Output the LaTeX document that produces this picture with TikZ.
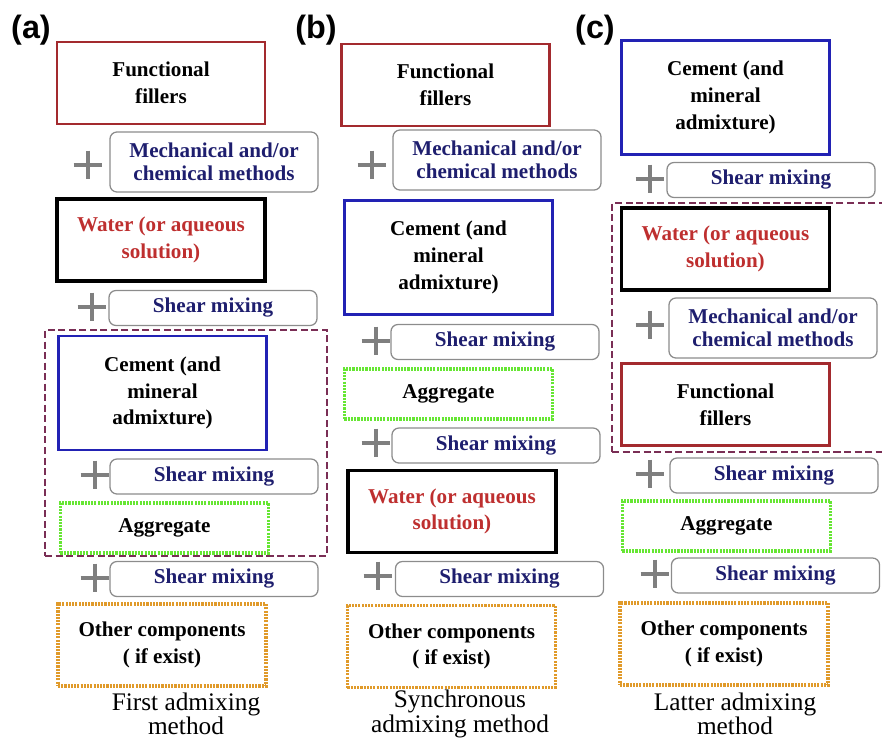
\documentclass[tikz,border=0pt]{standalone}
\usepackage{fontspec}
\setmainfont{Liberation Serif}
\newfontfamily\panelfont{Liberation Sans}
\usetikzlibrary{fit, backgrounds}
\definecolor{Cfill}{HTML}{A32A2E}
\definecolor{Cwat}{HTML}{BE2F2F}
\definecolor{Ccem}{HTML}{2222B4}
\definecolor{Cagg}{HTML}{66E633}
\definecolor{Coth}{HTML}{E09A2A}
\definecolor{Cgrp}{HTML}{7A2E55}
\definecolor{Cmix}{HTML}{8C8C8C}
\definecolor{Cnavy}{HTML}{1E1E6E}
\definecolor{Cplus}{HTML}{7F7F7F}
\tikzset{
  mainbox/.style={draw, line width=2pt, minimum width=5.2cm, align=center,
    inner sep=2pt, font=\fontsize{15}{19}\selectfont\bfseries},
  fillerbox/.style={mainbox, draw=Cfill, minimum height=2.05cm},
  waterbox/.style={mainbox, draw=black, line width=2.6pt, minimum height=2.05cm,
    text=Cwat},
  cementbox/.style={mainbox, draw=Ccem, minimum height=2.85cm},
  aggbox/.style={mainbox, draw=Cagg, line width=2.4pt,
    dash pattern=on 1.5pt off 0.8pt, minimum height=1.25cm},
  otherbox/.style={mainbox, draw=Coth, line width=2.4pt,
    dash pattern=on 1.5pt off 0.8pt, minimum height=2.05cm},
  mixbox/.style={draw=Cmix, line width=0.9pt, rounded corners=5pt,
    minimum width=5.2cm, align=center, inner sep=1pt, text=Cnavy,
    font=\fontsize{15}{16.5}\selectfont\bfseries},
  methodbox/.style={mixbox, minimum height=1.5cm},
  shearbox/.style={mixbox, minimum height=0.875cm},
  plussign/.style={minimum size=0.72cm, inner sep=0pt,
    path picture={\draw[Cplus, line width=2.4pt]
      (path picture bounding box.north) -- (path picture bounding box.south)
      (path picture bounding box.west) -- (path picture bounding box.east);}},
  groupbox/.style={draw=Cgrp, line width=2pt, dash pattern=on 5pt off 2.5pt,
    inner sep=0pt},
  caption/.style={align=center, font=\fontsize{18}{17.5}\selectfont},
  panel/.style={font=\panelfont\bfseries\fontsize{23}{26}\selectfont},
}

\begin{document}
\begin{tikzpicture}[x=0.025cm, y=-0.025cm]
\useasboundingbox (0,0) rectangle (882,742);

%% (a) first admixing
\node[panel] (la) at (31,30) {(a)};
\node[fillerbox] (fa) at (161,83) {Functional\\fillers};
\node[plussign] (pa1) at (88,165) {};
\node[methodbox] (ma) at (214,162) {Mechanical and/or\\chemical methods};
\node[waterbox] (wa) at (161,240) {Water (or aqueous\\solution)};
\node[plussign] (pa2) at (92,307) {};
\node[shearbox] (sa1) at (213,308) {Shear mixing};
\node[cementbox] (ca) at (162.5,393) {Cement (and\\mineral\\admixture)};
\node[plussign] (pa3) at (95,475) {};
\node[shearbox] (sa2) at (214,476.5) {Shear mixing};
\node[aggbox] (aa) at (164.5,528) {Aggregate};
\node[plussign] (pa4) at (95,578) {};
\node[shearbox] (sa3) at (214,579) {Shear mixing};
\node[otherbox] (oa) at (162,645) {Other components\\( if exist)};
\node[caption] (capa) at (186,714) {First admixing\\method};

%% (b) synchronous admixing
\node[panel] (lb) at (316,30) {(b)};
\node[fillerbox] (fb) at (445.5,85) {Functional\\fillers};
\node[plussign] (pb1) at (372,165) {};
\node[methodbox] (mb) at (497,160) {Mechanical and/or\\chemical methods};
\node[cementbox] (cb) at (448.5,257.5) {Cement (and\\mineral\\admixture)};
\node[plussign] (pb2) at (376,341) {};
\node[shearbox] (sb1) at (495,342) {Shear mixing};
\node[aggbox] (ab) at (448.5,394) {Aggregate};
\node[plussign] (pb3) at (376,443) {};
\node[shearbox] (sb2) at (496,445.5) {Shear mixing};
\node[waterbox] (wb) at (452,511.5) {Water (or aqueous\\solution)};
\node[plussign] (pb4) at (378,576) {};
\node[shearbox] (sb3) at (499.5,579) {Shear mixing};
\node[otherbox] (ob) at (451.5,646.5) {Other components\\( if exist)};
\node[caption] (capb) at (460,714) {Synchronous\\admixing method};

%% (c) latter admixing
\node[panel] (lc) at (595,30) {(c)};
\node[cementbox] (cc) at (725.5,97.5) {Cement (and\\mineral\\admixture)};
\node[plussign] (pc1) at (650,179) {};
\node[shearbox] (sc1) at (771,180) {Shear mixing};
\node[waterbox] (wc) at (725.5,249) {Water (or aqueous\\solution)};
\node[plussign] (pc2) at (650,325) {};
\node[methodbox] (mc) at (773,328) {Mechanical and/or\\chemical methods};
\node[fillerbox] (fc) at (725.5,404.5) {Functional\\fillers};
\node[plussign] (pc3) at (650,474) {};
\node[shearbox] (sc2) at (774,475.5) {Shear mixing};
\node[aggbox] (ac) at (726.5,526) {Aggregate};
\node[plussign] (pc4) at (655,574) {};
\node[shearbox] (sc3) at (775.5,575.5) {Shear mixing};
\node[otherbox] (oc) at (724,644) {Other components\\( if exist)};
\node[caption] (capc) at (735,714) {Latter admixing\\method};

%% dashed groups
\begin{scope}[on background layer]
  \coordinate (ga1) at (45,330);
  \coordinate (ga2) at (327,556);
  \node[groupbox, fit=(ga1)(ga2)] (ga) {};
  \coordinate (gc1) at (612,203);
  \coordinate (gc2) at (888,452);
  \node[groupbox, fit=(gc1)(gc2)] (gc) {};
\end{scope}

\end{tikzpicture}
\end{document}
